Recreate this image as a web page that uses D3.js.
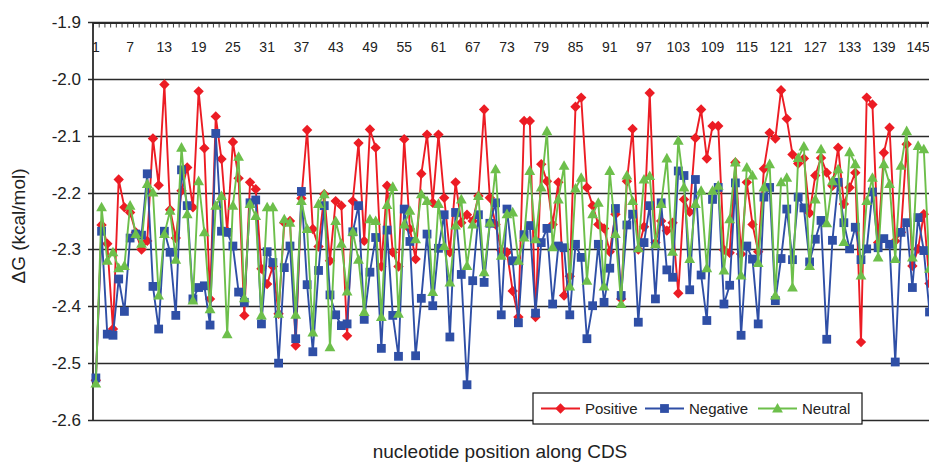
<!DOCTYPE html>
<html>
<head>
<meta charset="utf-8">
<script src="https://cdn.jsdelivr.net/npm/d3@7"></script>
<style>
  body { margin: 0; background: #fff; }
  text { font-family: "Liberation Sans", Arial, sans-serif; fill: #222; }
</style>
</head>
<body>
<div id="chart"></div>
<script>
// values, one entry per nucleotide position (1..147)
var positive = [-2.53,-2.257,-2.29,-2.44,-2.177,-2.226,-2.235,-2.27,-2.30,-2.285,
  -2.105,-2.187,-2.01,-2.23,-2.28,-2.197,-2.156,-2.226,-2.022,-2.122,
  -2.387,-2.066,-2.141,-2.268,-2.111,-2.175,-2.416,-2.182,-2.194,-2.334,
  -2.361,-2.33,-2.413,-2.253,-2.25,-2.469,-2.21,-2.09,-2.264,-2.295,
  -2.203,-2.32,-2.215,-2.223,-2.452,-2.215,-2.113,-2.285,-2.089,-2.121,
  -2.33,-2.188,-2.305,-2.33,-2.106,-2.264,-2.317,-2.167,-2.098,-2.218,
  -2.098,-2.209,-2.305,-2.182,-2.253,-2.239,-2.25,-2.206,-2.054,-2.209,
  -2.256,-2.302,-2.305,-2.373,-2.419,-2.074,-2.074,-2.419,-2.15,-2.18,
  -2.256,-2.182,-2.381,-2.347,-2.049,-2.033,-2.191,-2.223,-2.256,-2.263,
  -2.304,-2.238,-2.387,-2.18,-2.088,-2.30,-2.26,-2.025,-2.288,-2.25,
  -2.267,-2.253,-2.377,-2.212,-2.234,-2.104,-2.054,-2.14,-2.083,-2.083,
  -2.301,-2.306,-2.147,-2.308,-2.182,-2.256,-2.304,-2.158,-2.095,-2.105,
  -2.02,-2.07,-2.133,-2.149,-2.14,-2.236,-2.17,-2.139,-2.165,-2.188,
  -2.121,-2.22,-2.191,-2.165,-2.463,-2.033,-2.045,-2.288,-2.13,-2.086,
  -2.285,-2.27,-2.115,-2.329,-2.299,-2.238,-2.36];

var negative = [-2.526,-2.268,-2.449,-2.451,-2.352,-2.409,-2.28,-2.273,-2.275,-2.167,
  -2.365,-2.44,-2.268,-2.305,-2.416,-2.16,-2.223,-2.387,-2.367,-2.364,
  -2.433,-2.096,-2.268,-2.27,-2.294,-2.375,-2.393,-2.218,-2.213,-2.431,
  -2.304,-2.323,-2.5,-2.332,-2.294,-2.457,-2.198,-2.362,-2.48,-2.337,
  -2.223,-2.38,-2.415,-2.434,-2.431,-2.269,-2.223,-2.423,-2.34,-2.279,
  -2.474,-2.266,-2.416,-2.488,-2.229,-2.286,-2.487,-2.386,-2.273,-2.399,
  -2.298,-2.239,-2.454,-2.235,-2.344,-2.538,-2.355,-2.239,-2.358,-2.254,
  -2.218,-2.415,-2.229,-2.32,-2.429,-2.274,-2.258,-2.412,-2.288,-2.263,
  -2.396,-2.294,-2.297,-2.415,-2.291,-2.314,-2.457,-2.399,-2.291,-2.393,
  -2.333,-2.228,-2.381,-2.257,-2.238,-2.428,-2.288,-2.223,-2.387,-2.218,
  -2.336,-2.349,-2.162,-2.17,-2.371,-2.177,-2.345,-2.425,-2.212,-2.191,
  -2.396,-2.363,-2.183,-2.451,-2.294,-2.317,-2.431,-2.208,-2.191,-2.39,
  -2.316,-2.229,-2.318,-2.208,-2.227,-2.322,-2.282,-2.249,-2.458,-2.284,
  -2.182,-2.253,-2.299,-2.261,-2.318,-2.299,-2.199,-2.297,-2.281,-2.291,
  -2.498,-2.27,-2.253,-2.367,-2.244,-2.302,-2.41];

var neutral = [-2.536,-2.226,-2.32,-2.305,-2.333,-2.329,-2.223,-2.273,-2.29,-2.185,
  -2.2,-2.381,-2.273,-2.232,-2.318,-2.121,-2.238,-2.39,-2.18,-2.27,
  -2.405,-2.223,-2.206,-2.449,-2.223,-2.137,-2.386,-2.22,-2.241,-2.416,
  -2.226,-2.226,-2.413,-2.247,-2.253,-2.415,-2.215,-2.264,-2.446,-2.22,
  -2.203,-2.472,-2.25,-2.29,-2.374,-2.269,-2.318,-2.41,-2.247,-2.25,
  -2.419,-2.222,-2.19,-2.413,-2.256,-2.232,-2.282,-2.203,-2.215,-2.375,
  -2.22,-2.294,-2.358,-2.258,-2.212,-2.329,-2.256,-2.206,-2.34,-2.253,
  -2.159,-2.311,-2.238,-2.235,-2.32,-2.279,-2.162,-2.282,-2.191,-2.092,
  -2.296,-2.212,-2.153,-2.365,-2.193,-2.174,-2.355,-2.238,-2.218,-2.365,
  -2.162,-2.273,-2.396,-2.17,-2.215,-2.298,-2.177,-2.171,-2.291,-2.22,
  -2.14,-2.304,-2.109,-2.191,-2.317,-2.22,-2.197,-2.333,-2.197,-2.188,
  -2.337,-2.247,-2.147,-2.346,-2.156,-2.17,-2.324,-2.191,-2.15,-2.381,
  -2.182,-2.174,-2.367,-2.139,-2.119,-2.329,-2.212,-2.124,-2.254,-2.18,
  -2.159,-2.287,-2.129,-2.15,-2.346,-2.215,-2.174,-2.314,-2.15,-2.185,
  -2.317,-2.153,-2.092,-2.314,-2.118,-2.124,-2.334];

var positionLabels = d3.range(1, 150, 6);   // 1, 7, 13 ... 145
var yTicks = [-1.9, -2.0, -2.1, -2.2, -2.3, -2.4, -2.5, -2.6];
var nSlots = 150;

var series = [
  {name: "Positive", values: positive, color: "#ec1c24", shape: "M0,-5.2L5.2,0L0,5.2L-5.2,0Z"},
  {name: "Negative", values: negative, color: "#2f4fa6", shape: "M-4.4,-4.4h8.8v8.8h-8.8Z"},
  {name: "Neutral",  values: neutral,  color: "#6dbf4b", shape: "M0,-5.6L5.4,4L-5.4,4Z"}
];

var margin = {top: 22, left: 93},
    width = 929, height = 464,
    step = 5.71,
    plotBottom = 420;

var x = d3.scaleLinear()
    .domain([0.5, nSlots + 0.5])
    .range([margin.left, margin.left + nSlots * step]);
var y = d3.scaleLinear()
    .domain([-2.6, -1.9])
    .range([plotBottom, margin.top]);

var svg = d3.select("#chart").append("svg")
    .attr("width", width)
    .attr("height", height);

svg.append("rect").attr("width", width).attr("height", height).attr("fill", "#fff");

// horizontal gridlines
svg.selectAll(".grid")
    .data(yTicks)
  .enter().append("line")
    .attr("x1", margin.left - 5)
    .attr("x2", x.range()[1])
    .attr("y1", function(d) { return Math.round(y(d)) + 0.5; })
    .attr("y2", function(d) { return Math.round(y(d)) + 0.5; })
    .attr("stroke", "#2a2a2a")
    .attr("stroke-width", 1.5);

// y axis line
svg.append("line")
    .attr("x1", margin.left).attr("x2", margin.left)
    .attr("y1", margin.top).attr("y2", plotBottom + 1)
    .attr("stroke", "#2a2a2a").attr("stroke-width", 1.8);

svg.selectAll(".ylab")
    .data(yTicks)
  .enter().append("text")
    .attr("x", margin.left - 12)
    .attr("y", function(d) { return y(d); })
    .attr("dy", "0.35em")
    .style("text-anchor", "end")
    .style("font-size", "17px")
    .text(function(d) { return d.toFixed(1); });

// category axis along the top, minor tick per position
var topAxis = svg.append("g")
    .attr("transform", "translate(0," + (Math.round(y(-1.9)) + 0.5) + ")")
    .call(d3.axisBottom(x)
      .tickValues(d3.range(0.5, nSlots + 1, 1))
      .tickSize(5)
      .tickSizeOuter(0)
      .tickFormat(""));
topAxis.select(".domain").attr("stroke", "#2a2a2a").attr("stroke-width", 1.8);
topAxis.selectAll(".tick line").attr("stroke", "#2a2a2a").attr("stroke-width", 0.9);

svg.selectAll(".xlab")
    .data(positionLabels)
  .enter().append("text")
    .attr("x", function(d) { return x(d); })
    .attr("y", 47)
    .attr("dy", "0.35em")
    .style("text-anchor", "middle")
    .style("font-size", "14px")
    .text(function(d) { return d; });

// series: lines then markers, neutral drawn last
var line = d3.line()
    .x(function(d, i) { return x(i + 1); })
    .y(function(d) { return y(d); });

series.forEach(function(s) {
  svg.append("path")
      .datum(s.values)
      .attr("d", line)
      .attr("fill", "none")
      .attr("stroke", s.color)
      .attr("stroke-width", 1.9);

  svg.selectAll(".m-" + s.name)
      .data(s.values)
    .enter().append("path")
      .attr("d", s.shape)
      .attr("transform", function(d, i) { return "translate(" + x(i + 1) + "," + y(d) + ")"; })
      .attr("fill", s.color);
});

// legend
var legend = svg.append("g").attr("transform", "translate(533,393)");
legend.append("rect")
    .attr("width", 329).attr("height", 31)
    .attr("fill", "#fff").attr("stroke", "#111").attr("stroke-width", 1.2);

var legendX = [8, 112, 225];
series.forEach(function(s, i) {
  var g = legend.append("g").attr("transform", "translate(" + legendX[i] + ",15.5)");
  g.append("line").attr("x1", 0).attr("x2", 39).attr("stroke", s.color).attr("stroke-width", 1.9);
  g.append("path").attr("d", s.shape).attr("transform", "translate(19.5,0)").attr("fill", s.color);
  g.append("text")
      .attr("x", 44).attr("dy", "0.35em")
      .style("font-size", "15px")
      .text(s.name);
});

// axis titles
svg.append("text")
    .attr("transform", "translate(25,226) rotate(-90)")
    .style("text-anchor", "middle")
    .style("font-size", "19px")
    .text("ΔG (kcal/mol)");

svg.append("text")
    .attr("x", 500)
    .attr("y", 458)
    .style("text-anchor", "middle")
    .style("font-size", "19px")
    .text("nucleotide position along CDS");
</script>
</body>
</html>
